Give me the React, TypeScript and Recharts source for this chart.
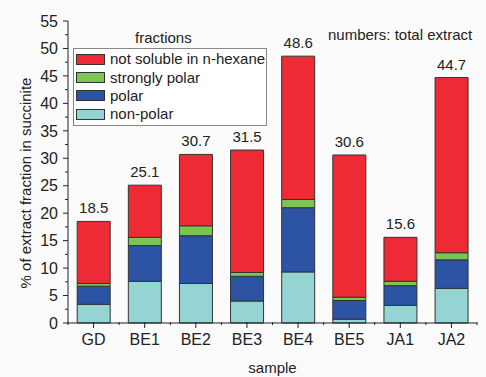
import React from "react";
import {
  BarChart,
  Bar,
  XAxis,
  YAxis,
  Legend,
  LabelList,
} from "recharts";

const samples = ["GD", "BE1", "BE2", "BE3", "BE4", "BE5", "JA1", "JA2"];
const totals = [18.5, 25.1, 30.7, 31.5, 48.6, 30.6, 15.6, 44.7];
const nonPolar = [3.4, 7.6, 7.2, 4.0, 9.3, 0.7, 3.2, 6.3];
const polar = [3.3, 6.5, 8.7, 4.5, 11.7, 3.4, 3.6, 5.2];
const stronglyPolar = [0.5, 1.5, 1.8, 0.7, 1.5, 0.6, 0.8, 1.3];
const notSoluble = [11.3, 9.5, 13.0, 22.3, 26.1, 25.9, 8.0, 31.9];

const yMajorTicks = [0, 5, 10, 15, 20, 25, 30, 35, 40, 45, 50, 55];
const yMinorTicks = [2.5, 7.5, 12.5, 17.5, 22.5, 27.5, 32.5, 37.5, 42.5, 47.5, 52.5];
const yTicks = [...yMajorTicks, ...yMinorTicks].sort((a, b) => a - b);

const FONT = '"Liberation Sans", Arial, sans-serif';
const INK = "#222";

const TICK = 5;
const MINOR = 3;
const GAP = 5;

const series = [
  { key: "nonPolar", name: "non-polar", color: "#94d5d4" },
  { key: "polar", name: "polar", color: "#2d53a5" },
  { key: "stronglyPolar", name: "strongly polar", color: "#7cc552" },
  { key: "notSoluble", name: "not soluble in n-hexane", color: "#ee2b34" },
];

const data = samples.map((s, i) => ({
  sample: s,
  total: totals[i],
  nonPolar: nonPolar[i],
  polar: polar[i],
  stronglyPolar: stronglyPolar[i],
  notSoluble: notSoluble[i],
}));

// y ticks: long ticks + labels on the majors, short ticks in between
function YTick(props: any) {
  const { x, y, payload } = props;
  const major = yMajorTicks.includes(payload.value);
  const ax = x + TICK + GAP;
  return (
    <g>
      <line x1={ax - (major ? TICK : MINOR)} x2={ax} y1={y} y2={y} stroke={INK} />
      {major && (
        <text x={x} y={y} dy="0.36em" textAnchor="end" fill={INK} fontSize={16} fontFamily={FONT}>
          {payload.value}
        </text>
      )}
    </g>
  );
}

// x ticks: long tick at the category, short ticks at the category edges
function XTick(props: any) {
  const { x, y, payload, index, visibleTicksCount } = props;
  const ay = y - TICK - GAP - 1;
  const half = payload.offset ?? 25.5;
  const last = index === visibleTicksCount - 1;
  return (
    <g>
      <line x1={x} x2={x} y1={ay} y2={ay + TICK + 1} stroke={INK} />
      <line x1={x - half} x2={x - half} y1={ay} y2={ay + MINOR} stroke={INK} />
      {last && <line x1={x + half} x2={x + half} y1={ay} y2={ay + MINOR} stroke={INK} />}
      <text x={x} y={y} dy="0.75em" textAnchor="middle" fill={INK} fontSize={16} fontFamily={FONT}>
        {payload.value}
      </text>
    </g>
  );
}

function YLabel(props: any) {
  const { viewBox } = props;
  const cx = viewBox.x + 25;
  const cy = viewBox.y + viewBox.height / 2 + 11;
  return (
    <text
      x={cx}
      y={cy}
      transform={`rotate(-90 ${cx} ${cy})`}
      textAnchor="middle"
      dominantBaseline="central"
      fill={INK}
      fontSize={15}
      fontFamily={FONT}
    >
      % of extract fraction in succinite
    </text>
  );
}

function FractionLegend() {
  const items = [...series].reverse();
  return (
    <div style={{ fontFamily: FONT, fontSize: 15, color: INK, whiteSpace: "nowrap" }}>
      <div style={{ height: 20, lineHeight: "20px", paddingLeft: 62 }}>fractions</div>
      <div
        style={{
          border: "1px solid #888",
          width: 194,
          padding: "1px 0 1px 2px",
          background: "#fff",
          boxSizing: "border-box",
        }}
      >
        {items.map((it) => (
          <div
            key={it.key}
            style={{ display: "flex", alignItems: "center", height: 18.4, lineHeight: "18px" }}
          >
            <span
              style={{
                display: "inline-block",
                flex: "none",
                width: 27,
                height: 9,
                background: it.color,
                border: "1px solid #333",
                marginRight: 5,
              }}
            />
            {it.name}
          </div>
        ))}
      </div>
    </div>
  );
}

export default function App() {
  return (
    <div
      style={{
        position: "absolute",
        left: 0,
        top: 0,
        width: 486,
        height: 377,
        background: "#fbfbfb",
        fontFamily: FONT,
      }}
    >
      <BarChart
        width={486}
        height={377}
        data={data}
        margin={{ top: 21, right: 9, bottom: 24, left: 0 }}
        barCategoryGap="18%"
      >
        <XAxis
          dataKey="sample"
          height={30}
          tickSize={TICK}
          tickMargin={GAP}
          axisLine={{ stroke: INK }}
          tickLine={false}
          tick={<XTick />}
          interval={0}
          label={{
            value: "sample",
            position: "insideBottom",
            offset: -20,
            fill: INK,
            fontSize: 15,
            fontFamily: FONT,
          }}
        />
        <YAxis
          domain={[0, 55]}
          ticks={yTicks}
          interval={0}
          width={68}
          tickSize={TICK}
          tickMargin={GAP}
          axisLine={{ stroke: INK }}
          tickLine={false}
          tick={<YTick />}
          label={<YLabel />}
        />
        <Legend
          layout="vertical"
          align="center"
          verticalAlign="middle"
          content={() => <FractionLegend />}
          wrapperStyle={{ position: "absolute", left: 73, top: 28, width: 200, height: 100 }}
        />
        {series.map((s) => (
          <Bar
            key={s.key}
            dataKey={s.key}
            name={s.name}
            stackId="a"
            fill={s.color}
            stroke="#333"
            strokeWidth={1}
            isAnimationActive={false}
          >
            {s.key === "notSoluble" && (
              <LabelList
                dataKey="total"
                position="top"
                offset={8}
                fill={INK}
                fontSize={15}
                fontFamily={FONT}
              />
            )}
          </Bar>
        ))}
      </BarChart>
      <div
        style={{
          position: "absolute",
          left: 328,
          top: 26,
          fontSize: 15,
          color: INK,
          whiteSpace: "nowrap",
        }}
      >
        numbers: total extract
      </div>
    </div>
  );
}
